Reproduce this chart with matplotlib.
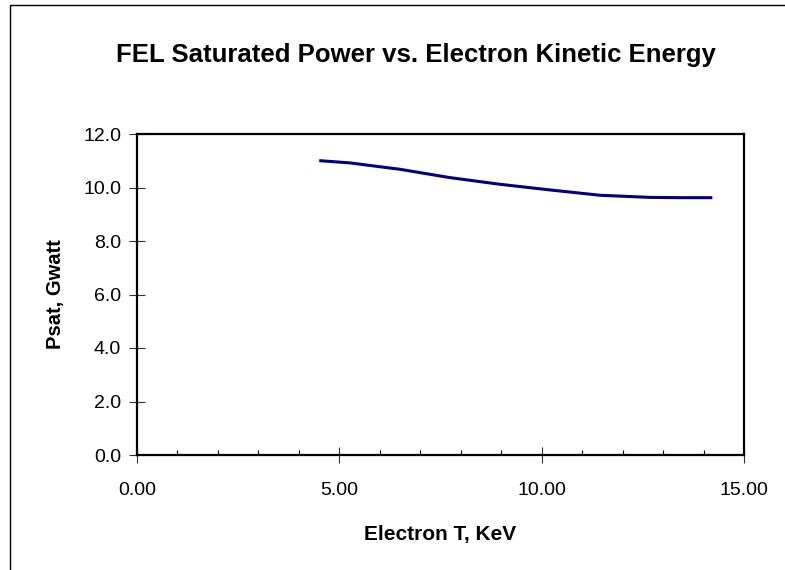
import matplotlib
matplotlib.use("Agg")
import matplotlib.pyplot as plt
from matplotlib.patches import Rectangle
from matplotlib.ticker import MultipleLocator, FormatStrFormatter

matplotlib.rcParams["font.family"] = ["Liberation Sans", "DejaVu Sans"]

# values
energy_kev = [4.54, 5.26, 6.50, 7.73, 8.97, 10.20, 11.44, 12.68, 13.40, 14.18]
psat_gw = [11.00, 10.92, 10.68, 10.37, 10.12, 9.91, 9.71, 9.63, 9.62, 9.62]

title = "FEL Saturated Power vs. Electron Kinetic Energy"
xlabel = "Electron T, KeV"
ylabel = "Psat, Gwatt"

fig = plt.figure(figsize=(7.85, 5.7), dpi=100)
fig.patch.set_facecolor("white")

# outer chart frame (runs off the right and bottom edges)
fig.patches.append(
    Rectangle((10 / 785, -0.05), 1.2, 1.05 - 5 / 570, transform=fig.transFigure,
              fill=False, edgecolor="black", linewidth=1.0)
)

ax = fig.add_axes([137 / 785, 115 / 570, 607 / 785, 321 / 570])
ax.plot(energy_kev, psat_gw, color="#000080", linewidth=2.2)

ax.set_xlim(0, 15)
ax.set_ylim(0, 12)
ax.xaxis.set_major_locator(MultipleLocator(5))
ax.xaxis.set_minor_locator(MultipleLocator(1))
ax.yaxis.set_major_locator(MultipleLocator(2))
ax.xaxis.set_major_formatter(FormatStrFormatter("%.2f"))
ax.yaxis.set_major_formatter(FormatStrFormatter("%.1f"))

for side in ["left", "right", "top", "bottom"]:
    ax.spines[side].set_linewidth(1.6)

ax.tick_params(axis="both", which="major", direction="inout", length=11,
               width=0.8, labelsize=14, color="#333333")
ax.tick_params(axis="x", which="major", pad=14)
ax.tick_params(axis="y", which="major", pad=6)
ax.tick_params(axis="x", which="minor", direction="in", length=3.5, width=0.8)

# the title sits centred on the whole chart frame, not on the plot area
ax.set_title(title, fontsize=18.5, fontweight="bold", pad=52, x=0.4596)
ax.set_xlabel(xlabel, fontsize=15, fontweight="bold", labelpad=19)
ax.set_ylabel(ylabel, fontsize=14.5, fontweight="bold", labelpad=13)

fig.savefig("out.png", dpi=100)
